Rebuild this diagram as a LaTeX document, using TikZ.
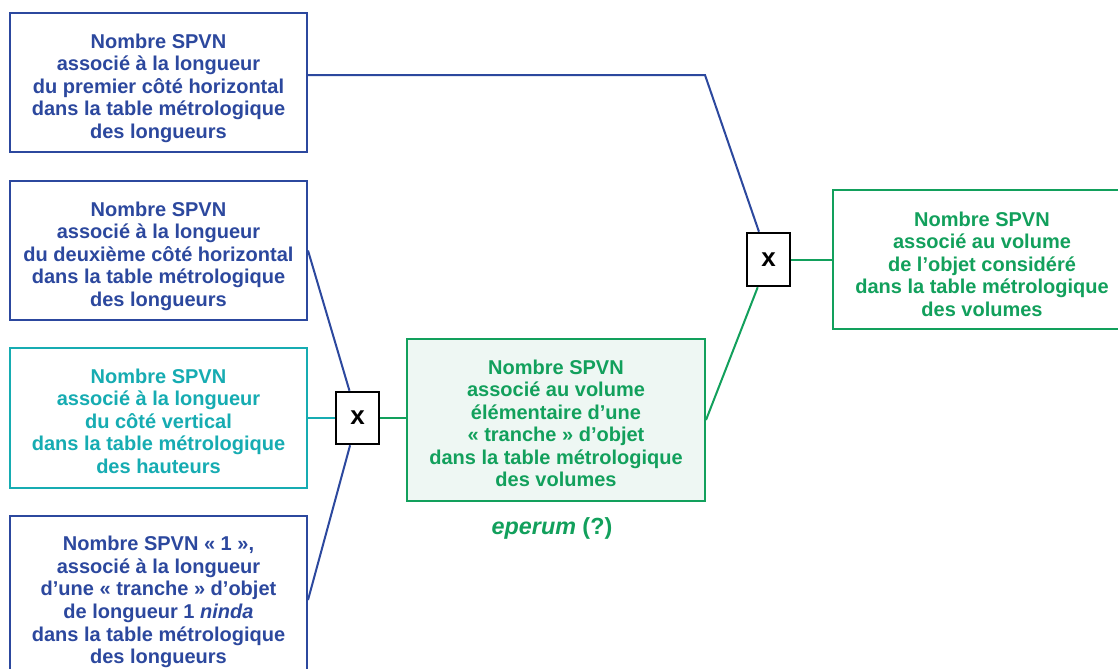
\documentclass[tikz,border=0pt]{standalone}
\usepackage{fontspec}
\setmainfont{Liberation Sans}
\definecolor{cblue}{RGB}{44,72,158}
\definecolor{ccyan}{RGB}{22,172,178}
\definecolor{cgreen}{RGB}{18,160,92}
\definecolor{cfill}{RGB}{238,247,243}
\tikzset{
  txt/.style={font=\fontsize{15pt}{16.9pt}\selectfont\bfseries, align=center, inner sep=0pt},
  boxnode/.style={draw, line width=1.5pt, minimum width=297*0.75pt, minimum height=139*0.75pt, inner sep=0pt},
  mulbox/.style={draw=black, fill=white, line width=1.9pt, minimum width=43*0.75pt, minimum height=52*0.75pt, inner sep=0pt, font=\fontsize{19.5pt}{19.5pt}\selectfont\bfseries},
  conn/.style={line width=1.5pt},
}
\begin{document}
\begin{tikzpicture}[x=0.75pt,y=-0.75pt]
\clip (0,0) rectangle (1118,668);
\fill[white] (0,0) rectangle (1118,668);
\node[boxnode, draw=cblue, label={[txt, text=cblue, yshift=-5.5*0.75pt]center:Nombre SPVN\\associé à la longueur\\du premier côté horizontal\\dans la table métrologique\\des longueurs}] (b1) at (158.5,82.5) {};
\node[boxnode, draw=cblue, label={[txt, text=cblue, yshift=-5.5*0.75pt]center:Nombre SPVN\\associé à la longueur\\du deuxième côté horizontal\\dans la table métrologique\\des longueurs}] (b2) at (158.5,250.5) {};
\node[boxnode, draw=ccyan, minimum height=140*0.75pt, label={[txt, text=ccyan, yshift=-3*0.75pt]center:Nombre SPVN\\associé à la longueur\\du côté vertical\\dans la table métrologique\\des hauteurs}] (b3) at (158.5,418) {};
\node[boxnode, draw=cblue, minimum height=168*0.75pt, label={[txt, text=cblue, text depth=0pt]center:Nombre SPVN « 1 »,\\associé à la longueur\\d’une « tranche » d’objet\\de longueur 1 \textit{ninda}\\dans la table métrologique\\des longueurs}] (b4) at (158.5,600) {};
\node[boxnode, draw=cgreen, fill=cfill, minimum width=298*0.75pt, minimum height=162*0.75pt, label={[txt, text=cgreen, yshift=-3.5*0.75pt]center:Nombre SPVN\\associé au volume\\élémentaire d’une\\« tranche » d’objet\\dans la table métrologique\\des volumes}] (m) at (556,420) {};
\node[txt, text=cgreen, font=\fontsize{17.5pt}{20pt}\selectfont\bfseries] (ep) at (552,528) {\textit{eperum} (?)};
\node[boxnode, draw=cgreen, minimum width=298*0.75pt, label={[txt, text=cgreen, yshift=-4.5*0.75pt]center:Nombre SPVN\\associé au volume\\de l’objet considéré\\dans la table métrologique\\des volumes}] (r) at (982,259.5) {};
\node[mulbox] (x1) at (357.5,418) {x};
\node[mulbox, minimum height=53*0.75pt] (x2) at (768.5,259.5) {x};
\coordinate (k1) at (705,75);
\draw[conn, cblue] (b1.east |- k1) -- (k1) -- (x2);
\draw[conn, cblue] (b2.east) -- (x1);
\draw[conn, cblue] (b4.east) -- (x1);
\draw[conn, ccyan] (b3.east |- x1.west) -- (x1.west);
\draw[conn, cgreen] (x1.east) -- (m.west |- x1.east);
\draw[conn, cgreen] (m.east) -- (x2);
\draw[conn, cgreen] (x2.east) -- (r.west |- x2.east);
\end{tikzpicture}
\end{document}
